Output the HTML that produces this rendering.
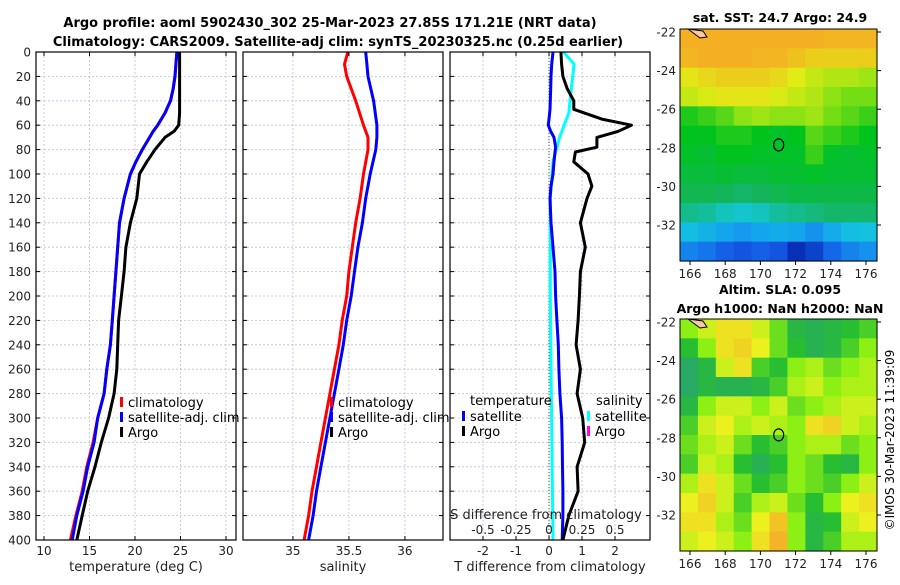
<!DOCTYPE html>
<html><head><meta charset="utf-8">
<style>
body{margin:0;background:#fff;font-family:"Liberation Sans","DejaVu Sans",sans-serif}
svg text{font-family:"DejaVu Sans","Liberation Sans",sans-serif}
</style></head>
<body>
<svg id="fig" width="900" height="580" viewBox="0 0 900 580" xmlns="http://www.w3.org/2000/svg">
<rect x="0" y="0" width="900" height="580" fill="#fff"/>
<text x="330" y="27" font-size="13" font-weight="bold" text-anchor="middle">Argo profile: aoml 5902430_302 25-Mar-2023 27.85S 171.21E (NRT data)</text>
<text x="338" y="46" font-size="13" font-weight="bold" text-anchor="middle">Climatology: CARS2009. Satellite-adj clim: synTS_20230325.nc (0.25d earlier)</text>
<text x="780" y="22" font-size="12.5" font-weight="bold" text-anchor="middle">sat. SST: 24.7 Argo: 24.9</text>
<text x="780" y="294" font-size="12.5" font-weight="bold" text-anchor="middle">Altim. SLA: 0.095</text>
<text x="780" y="313" font-size="12.5" font-weight="bold" text-anchor="middle">Argo h1000: NaN h2000: NaN</text>
<text x="0" y="0" font-size="12" text-anchor="middle" transform="translate(894,440) rotate(-90)">©IMOS 30-Mar-2023 11:39:09</text>
<g id="plots"></g>
</svg>
<script>
// ---- profile data ----
const tDepths = [0,10,20,30,40,50,60,65,70,80,90,100,120,140,160,180,200,220,240,260,280,300,320,340,360,380,400];
const tempClim = [24.6,24.5,24.4,24.2,23.9,23.3,22.5,22.0,21.6,20.8,20.1,19.5,18.8,18.3,18.1,17.9,17.7,17.5,17.3,16.9,16.6,15.9,15.4,14.7,14.2,13.5,12.9];
const tempSat  = [24.6,24.5,24.4,24.2,23.9,23.3,22.5,22.0,21.6,20.8,20.1,19.5,18.8,18.3,18.1,17.9,17.7,17.5,17.3,16.9,16.6,15.9,15.5,14.8,14.3,13.6,13.1];
const tempArgo = [24.9,24.9,24.9,24.9,24.9,24.9,24.8,24.3,23.3,22.2,21.3,20.5,20.2,19.5,19.0,18.8,18.5,18.2,18.1,18.0,17.7,17.1,16.3,15.6,14.8,14.2,13.6];
const sDepths = [0,10,20,40,60,70,80,100,120,140,160,180,200,220,240,260,280,300,320,340,360,380,400];
const salClim = [35.49,35.46,35.48,35.56,35.63,35.67,35.67,35.63,35.60,35.56,35.53,35.50,35.48,35.44,35.41,35.37,35.33,35.29,35.25,35.21,35.17,35.14,35.10];
const salSat  = [35.65,35.66,35.67,35.72,35.75,35.75,35.74,35.69,35.65,35.62,35.58,35.55,35.52,35.48,35.45,35.41,35.37,35.33,35.29,35.25,35.21,35.18,35.14];
const dDepths = [0,10,20,30,40,47,55,60,65,70,78,82,90,100,110,120,140,160,180,200,220,240,260,280,300,320,340,360,380,400];
const tDiffSat  = [0.12,0.08,0.06,0.05,0.04,0.03,0.0,-0.02,0.05,0.15,0.2,0.18,0.15,0.12,0.06,0.03,0.06,0.12,0.18,0.2,0.24,0.28,0.3,0.33,0.38,0.4,0.41,0.42,0.42,0.4];
const tDiffArgo = [0.36,0.38,0.42,0.55,0.75,0.75,1.6,2.5,2.1,1.45,1.45,0.8,0.75,1.18,1.3,1.15,0.95,1.1,0.95,0.92,0.88,0.82,0.95,0.85,1.02,1.08,0.85,0.88,0.6,0.42];
const sDiffDepths = [0,10,30,50,70,90,120,200,300,400];
const sDiffSat = [0.11,0.19,0.17,0.15,0.08,0.03,0.01,0.01,0.02,0.03];
const depthTicks = [0,20,40,60,80,100,120,140,160,180,200,220,240,260,280,300,320,340,360,380,400];
const tempTicks = [10,15,20,25,30];
const salTicks = [35,35.5,36];
const salTickLabels = ["35","35.5","36"];
const dTTicks = [-2,-1,0,1,2];
const dSTicks = [-0.5,-0.25,0,0.25,0.5];
const dSTickLabels = ["-0.5","-0.25","0","0.25","0.5"];
// ---- map data (rows -22 -> -34, cols 166 -> 177) ----
const sstGrid = [
[.88,.87,.86,.85,.86,.85,.86,.86,.84,.84,.84],
[.84,.85,.86,.85,.84,.84,.82,.80,.80,.80,.80],
[.76,.78,.80,.80,.80,.78,.75,.72,.70,.70,.68],
[.72,.74,.76,.76,.76,.74,.72,.70,.66,.64,.64],
[.58,.60,.62,.66,.68,.66,.66,.68,.64,.62,.60],
[.56,.56,.58,.58,.56,.55,.56,.62,.60,.58,.56],
[.55,.54,.56,.56,.55,.55,.55,.60,.55,.54,.55],
[.53,.53,.54,.53,.53,.54,.54,.55,.54,.54,.54],
[.51,.51,.50,.49,.50,.51,.52,.52,.52,.52,.52],
[.47,.46,.44,.43,.44,.46,.47,.48,.49,.49,.49],
[.40,.38,.36,.34,.36,.37,.36,.33,.37,.40,.41],
[.31,.29,.26,.24,.26,.24,.16,.20,.27,.31,.33]];
const slaGrid = [
[.50,.60,.70,.70,.60,.45,.30,.25,.30,.35,.40],
[.35,.50,.70,.75,.65,.45,.35,.25,.30,.40,.50],
[.20,.30,.60,.70,.40,.35,.50,.55,.45,.50,.55],
[.20,.30,.25,.25,.30,.40,.55,.60,.50,.55,.55],
[.30,.50,.60,.60,.50,.60,.45,.50,.55,.60,.60],
[.40,.60,.65,.55,.60,.55,.50,.70,.75,.60,.55],
[.45,.55,.60,.45,.35,.40,.50,.55,.55,.45,.50],
[.40,.60,.55,.35,.25,.35,.50,.45,.35,.30,.50],
[.55,.70,.60,.45,.35,.40,.50,.45,.40,.50,.60],
[.65,.75,.60,.40,.55,.60,.45,.35,.50,.65,.70],
[.70,.70,.55,.45,.65,.80,.50,.30,.35,.60,.65],
[.60,.65,.60,.50,.70,.85,.50,.30,.40,.55,.55]];
const lonTicks = [166,168,170,172,174,176];
const latTicks = [-22,-24,-26,-28,-30,-32];
const argoLon = 171.21, argoLat = -27.85;

const NS = "http://www.w3.org/2000/svg";
const root = document.getElementById('plots');
function mk(tag, attrs, parent){const e=document.createElementNS(NS,tag);for(const k in attrs)e.setAttribute(k,attrs[k]);(parent||root).appendChild(e);return e;}
function txt(s,attrs,parent){const e=mk('text',attrs,parent);e.textContent=s;return e;}

const yTop=52, yBot=540;
const yD = d => yTop + d/400*(yBot-yTop);
const panels = [
 {x0:36,x1:236,lo:9.12,hi:31.1,name:'temperature-panel'},
 {x0:243,x1:443,lo:34.554,hi:36.34,name:'salinity-panel'},
 {x0:450,x1:650,lo:-3.0,hi:3.06,name:'difference-panel'}];
function sx(p,v){return p.x0+(v-p.lo)/(p.hi-p.lo)*(p.x1-p.x0);}

function frame(p, xt){
  const g=mk('g',{});
  
  
  depthTicks.forEach(d=>{mk('line',{x1:p.x0,x2:p.x1,y1:yD(d),y2:yD(d),stroke:'#b8c0e0','stroke-width':0.8,'stroke-dasharray':'2,2'},g);});
  xt.forEach(v=>{const x=sx(p,v);mk('line',{x1:x,x2:x,y1:yTop,y2:yBot,stroke:'#b8c0e0','stroke-width':0.8,'stroke-dasharray':'2,2'},g);});
  return g;
}
function border(p,g,xt){
  mk('rect',{x:p.x0,y:yTop,width:p.x1-p.x0,height:yBot-yTop,fill:'none',stroke:'#000','stroke-width':1.2},g);
  depthTicks.forEach(d=>{mk('line',{x1:p.x0,x2:p.x0+4,y1:yD(d),y2:yD(d),stroke:'#000'},g);mk('line',{x1:p.x1-4,x2:p.x1,y1:yD(d),y2:yD(d),stroke:'#000'},g);});
  xt.forEach(v=>{const x=sx(p,v);mk('line',{x1:x,x2:x,y1:yBot,y2:yBot-4,stroke:'#000'},g);mk('line',{x1:x,x2:x,y1:yTop,y2:yTop+4,stroke:'#000'},g);});
}
function line(p,g,xs,ds,color,w,name,scale){
  const pts=xs.map((v,i)=>(scale?scale(v):sx(p,v)).toFixed(1)+','+yD(ds[i]).toFixed(1)).join(' ');
  const e=mk('polyline',{points:pts,fill:'none',stroke:color,'stroke-width':w,'stroke-linejoin':'round'},g);
  
  
}
function legend(g,x,y,items){
  items.forEach((it,i)=>{mk('rect',{x:x,y:y+i*15-10,width:3,height:10,fill:it[1]},g);txt(it[0],{x:x+8,y:y+i*15,'font-size':13},g);});
}

// Panel 1
let p=panels[0]; let g=frame(p,tempTicks);
line(p,g,tempClim,tDepths,'#ff0000',3,'temp-climatology-line');
line(p,g,tempSat,tDepths,'#0000ff',3,'temp-satellite-line');
line(p,g,tempArgo,tDepths,'#000000',3,'temp-argo-line');
border(p,g,tempTicks);
depthTicks.forEach(d=>txt(String(d),{x:31,y:yD(d)+4.5,'font-size':12,'text-anchor':'end',fill:'#222'},g));
tempTicks.forEach(v=>txt(String(v),{x:sx(p,v),y:555,'font-size':12,'text-anchor':'middle',fill:'#222'},g));
txt('temperature (deg C)',{x:136,y:571,'font-size':13,'text-anchor':'middle',fill:'#222'},g);
legend(g,120,407,[['climatology','#ff0000'],['satellite-adj. clim','#0000ff'],['Argo','#000']]);

// Panel 2
p=panels[1]; g=frame(p,salTicks);
line(p,g,salClim,sDepths,'#ff0000',3,'sal-climatology-line');
line(p,g,salSat,sDepths,'#0000ff',3,'sal-satellite-line');
border(p,g,salTicks);
salTicks.forEach((v,i)=>txt(salTickLabels[i],{x:sx(p,v),y:555,'font-size':12,'text-anchor':'middle',fill:'#222'},g));
txt('salinity',{x:343,y:571,'font-size':13,'text-anchor':'middle',fill:'#222'},g);
legend(g,330,407,[['climatology','#ff0000'],['satellite-adj. clim','#0000ff'],['Argo','#000']]);

// Panel 3
p=panels[2]; g=frame(p,dTTicks);
const sScale = v => 549 + v*132;
mk('line',{x1:sx(p,0),x2:sx(p,0),y1:yTop,y2:yBot,stroke:'#3a5a2a','stroke-width':1,'stroke-dasharray':'1,2'},g);
line(p,g,sDiffSat,sDiffDepths,'#00ffff',3,'sal-diff-satellite-line',sScale);
line(p,g,tDiffSat,dDepths,'#0000ff',3,'temp-diff-satellite-line');
line(p,g,tDiffArgo,dDepths,'#000000',3,'temp-diff-argo-line');
border(p,g,dTTicks);
dTTicks.forEach(v=>txt(String(v),{x:sx(p,v),y:555,'font-size':12,'text-anchor':'middle',fill:'#222'},g));
txt('T difference from climatology',{x:550,y:571,'font-size':13,'text-anchor':'middle',fill:'#222'},g);
txt('S difference from climatology',{x:546,y:519,'font-size':13,'text-anchor':'middle',fill:'#222'},g);
dSTicks.forEach((v,i)=>txt(dSTickLabels[i],{x:sScale(v),y:534,'font-size':12,'text-anchor':'middle',fill:'#222'},g));
txt('temperature',{x:470,y:405,'font-size':13},g);
legend(g,462,421,[['satellite','#0000ff'],['Argo','#000']]);
txt('salinity',{x:596,y:405,'font-size':13},g);
legend(g,587,421,[['satellite','#00ffff'],['Argo','#ff00ff']]);

// ---- maps ----
function lerpColor(stops,v){
  v=Math.max(stops[0][0],Math.min(stops[stops.length-1][0],v));
  for(let i=0;i<stops.length-1;i++){const a=stops[i],b=stops[i+1];if(v<=b[0]){const t=(v-a[0])/(b[0]-a[0]);const c=a[1].map((x,j)=>Math.round(x+(b[1][j]-x)*t));return 'rgb('+c.join(',')+')';}}
}
const sstStops=[[0.1,[0,20,150]],[0.25,[20,90,230]],[0.35,[20,160,240]],[0.42,[20,200,220]],[0.5,[20,180,90]],[0.56,[0,195,30]],[0.65,[130,225,20]],[0.75,[225,235,20]],[0.85,[245,175,35]]];
const slaStops=[[0.2,[40,170,100]],[0.35,[40,190,50]],[0.5,[140,240,20]],[0.65,[235,240,30]],[0.85,[245,180,40]]];
function map(y0,y1,latTop,grid,stops,name){
  const m={x0:680,x1:877,y0:y0,y1:y1};
  const lx=v=>690+(v-166)*17.6, ly=v=>latTop+(-22-v)*19.3;
  const gg=mk('g',{});
  
  
  const rows=grid.length, cols=grid[0].length, cw=(m.x1-m.x0)/cols, ch=(m.y1-m.y0)/rows;
  grid.forEach((row,r)=>row.forEach((v,c)=>{
    const cell=mk('rect',{x:(m.x0+c*cw).toFixed(2),y:(m.y0+r*ch).toFixed(2),width:(cw+0.6).toFixed(2),height:(ch+0.6).toFixed(2),fill:lerpColor(stops,v)},gg);
    
    
  }));
  mk('path',{d:`M${m.x0+8},${m.y0} L${m.x0+23},${m.y0+2} L${m.x0+27},${m.y0+8} L${m.x0+20},${m.y0+9} Z`,fill:'#f5c8a0',stroke:'#000','stroke-width':1},gg);
  const c=mk('ellipse',{cx:lx(argoLon)-3,cy:ly(argoLat),rx:5,ry:6,fill:'none',stroke:'#000','stroke-width':1.2},gg);
  
  
  mk('rect',{x:m.x0,y:m.y0,width:m.x1-m.x0,height:m.y1-m.y0,fill:'none',stroke:'#000','stroke-width':1},gg);
  latTicks.forEach(v=>{mk('line',{x1:m.x1,x2:m.x1+4,y1:ly(v),y2:ly(v),stroke:'#000'},gg);txt(String(v),{x:676,y:ly(v)+4.5,'font-size':12,'text-anchor':'end',fill:'#222'},gg);});
  lonTicks.forEach(v=>{mk('line',{x1:lx(v),x2:lx(v),y1:m.y1,y2:m.y1+4,stroke:'#000'},gg);txt(String(v),{x:lx(v),y:m.y1+17,'font-size':12,'text-anchor':'middle',fill:'#222'},gg);});
}
map(29,261,32,sstGrid,sstStops,'sst-map');
map(319,551,322,slaGrid,slaStops,'sla-map');
</script>
</body></html>
